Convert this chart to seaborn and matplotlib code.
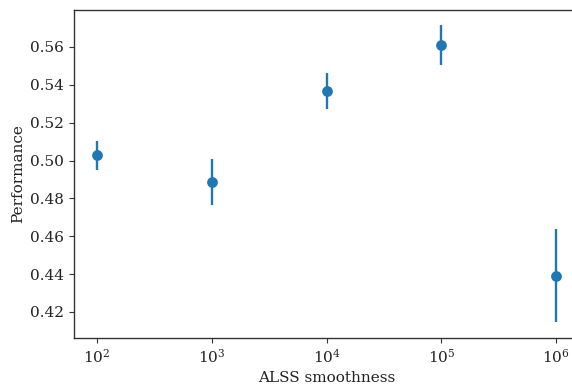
import matplotlib
matplotlib.use("Agg")
import matplotlib.pyplot as plt
import seaborn as sns
import pandas as pd

# values
smoothness = [1e2, 1e3, 1e4, 1e5, 1e6]
performance = [0.5027, 0.4887, 0.5367, 0.5610, 0.4392]
error = [0.0076, 0.0123, 0.0095, 0.0106, 0.0245]

sns.set_style("ticks")
plt.rcParams['font.family'] = ['DejaVu Serif']
plt.rcParams['axes.edgecolor'] = '#333333'
plt.rcParams['axes.linewidth'] = 1.0

df = pd.DataFrame({"smoothness": smoothness, "performance": performance, "error": error})

fig = plt.figure(figsize=(5.72, 3.85), dpi=100)
ax = fig.add_axes([74 / 572, 1 - 337.7 / 385, (579 - 74) / 572, (337.7 - 10) / 385])

color = "#1f77b4"
ax.errorbar(df["smoothness"], df["performance"], yerr=df["error"], fmt="none",
            ecolor=color, elinewidth=1.7, capsize=0, zorder=2)
sns.scatterplot(data=df, x="smoothness", y="performance", ax=ax, color=color,
                s=60, linewidth=0, zorder=3)

ax.set_xscale("log")
ax.set_xlim(10 ** 1.8, 10 ** 6.2)
ax.set_ylim(0.4064, 0.5795)
ax.set_yticks([0.42, 0.44, 0.46, 0.48, 0.50, 0.52, 0.54, 0.56])
ax.minorticks_off()
ax.tick_params(axis="both", labelsize=11, length=3.5, width=0.8, colors="#333333",
               labelcolor="#222222")
ax.set_xlabel("ALSS smoothness", fontsize=11, color="#222222")
ax.set_ylabel("Performance", fontsize=11, color="#222222")

fig.savefig("out.png", dpi=100)
